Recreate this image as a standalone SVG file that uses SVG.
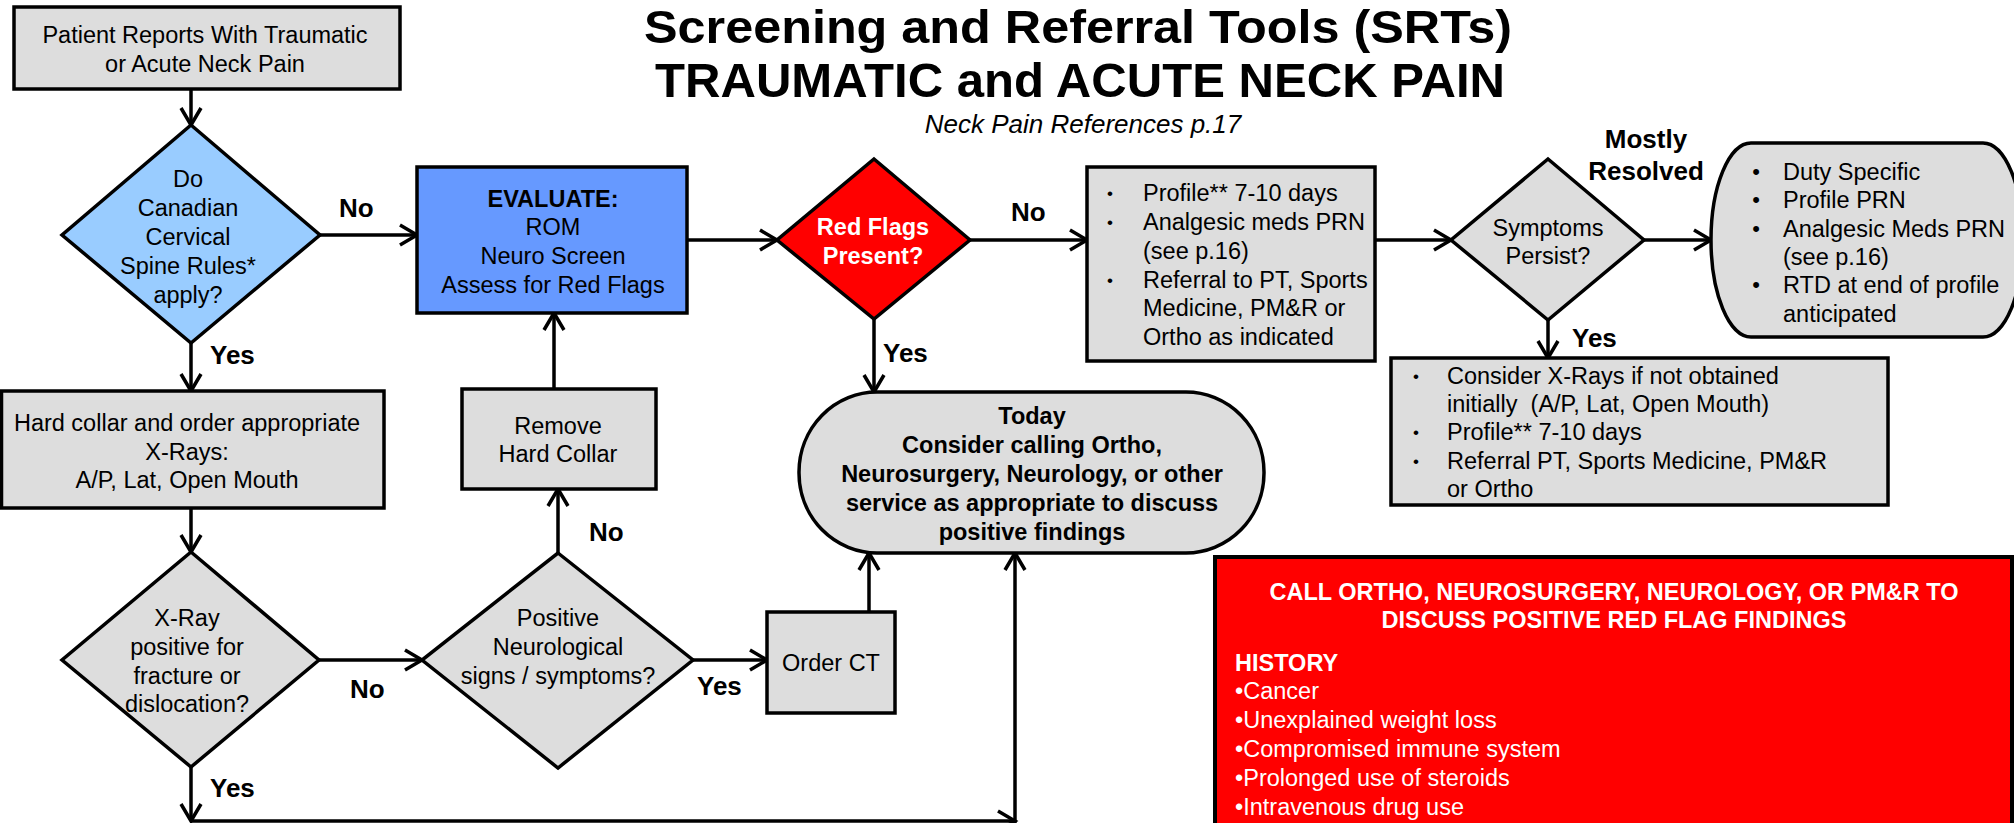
<svg xmlns="http://www.w3.org/2000/svg" width="2014" height="823" viewBox="0 0 2014 823">
<style>
.t{font-family:"Liberation Sans",Arial,sans-serif;font-size:23.5px;fill:#000}
.c{text-anchor:middle}
.b{font-weight:bold}
.w{fill:#fff}
.lbl{font-family:"Liberation Sans",Arial,sans-serif;font-weight:bold;font-size:26px;fill:#000}
.gray{fill:#DDDDDD;stroke:#000;stroke-width:3.5}
.bul{font-size:17px}
.bul2{font-size:22px}
#conns path{fill:none;stroke:#000;stroke-width:3.5;marker-end:url(#arr)}
</style>
<defs>
<marker id="arr" markerUnits="userSpaceOnUse" viewBox="0 0 20 22" markerWidth="20" markerHeight="22" refX="18" refY="11" orient="auto" overflow="visible">
<path d="M1,1 L18,11 L1,21" fill="none" stroke="#000" stroke-width="3.5"/>
</marker>
</defs>
<rect width="2014" height="823" fill="#fff"/>

<g id="title">
<text class="t b c" x="1078" y="43" style="font-size:47px" textLength="868" lengthAdjust="spacingAndGlyphs">Screening and Referral Tools (SRTs)</text>
<text class="t b c" x="1080" y="97" style="font-size:48px" textLength="850" lengthAdjust="spacingAndGlyphs">TRAUMATIC and ACUTE NECK PAIN</text>
<text class="t c" x="1083" y="133" style="font-size:26px;font-style:italic">Neck Pain References p.17</text>
</g>

<g id="conns">
<path d="M191,89 V125"/>
<path d="M320,235 H417"/>
<path d="M191,343 V391"/>
<path d="M687,240 H777"/>
<path d="M970,240 H1087"/>
<path d="M1375,240 H1451"/>
<path d="M1644,240 H1711"/>
<path d="M1548,320 V358"/>
<path d="M874,319 V392"/>
<path d="M191,508 V552"/>
<path d="M319,660 H422"/>
<path d="M558,553 V489"/>
<path d="M554,389 V313"/>
<path d="M693,660 H767"/>
<path d="M869,612 V553"/>
<path d="M191,767 V821"/>
<path d="M191,821 H1015"/>
<path d="M1015,826 V553"/>
</g>

<g id="labels">
<text class="lbl" x="339" y="217">No</text>
<text class="lbl" x="210" y="364">Yes</text>
<text class="lbl" x="1011" y="221">No</text>
<text class="lbl" x="883" y="362">Yes</text>
<text class="lbl" x="1646" y="148" text-anchor="middle">Mostly</text>
<text class="lbl" x="1646" y="180" text-anchor="middle">Resolved</text>
<text class="lbl" x="1572" y="347">Yes</text>
<text class="lbl" x="350" y="698">No</text>
<text class="lbl" x="589" y="541">No</text>
<text class="lbl" x="697" y="695">Yes</text>
<text class="lbl" x="210" y="797">Yes</text>
</g>

<g id="patient">
<rect class="gray" x="14" y="7" width="386" height="82"/>
<text class="t c" x="205" y="43">Patient Reports With Traumatic</text>
<text class="t c" x="205" y="72">or Acute Neck Pain</text>
</g>

<g id="ccsr">
<polygon points="191,125 320,235 191,343 62,235" fill="#99CCFF" stroke="#000" stroke-width="3.5"/>
<text class="t c" x="188" y="187">Do</text>
<text class="t c" x="188" y="216">Canadian</text>
<text class="t c" x="188" y="245">Cervical</text>
<text class="t c" x="188" y="274">Spine Rules*</text>
<text class="t c" x="188" y="303">apply?</text>
</g>

<g id="evaluate">
<rect x="417" y="167" width="270" height="146" fill="#6699FF" stroke="#000" stroke-width="3.5"/>
<text class="t b c" x="553" y="207">EVALUATE:</text>
<text class="t c" x="553" y="235">ROM</text>
<text class="t c" x="553" y="264">Neuro Screen</text>
<text class="t c" x="553" y="293">Assess for Red Flags</text>
</g>

<g id="redflags">
<polygon points="874,159 970,240 874,319 777,240" fill="#FF0000" stroke="#000" stroke-width="3.5"/>
<text class="t b c w" x="873" y="235">Red Flags</text>
<text class="t b c w" x="873" y="264">Present?</text>
</g>

<g id="noflags">
<rect class="gray" x="1087" y="167" width="288" height="194"/>
<text class="t c bul" x="1110" y="199">•</text>
<text class="t c bul" x="1110" y="228">•</text>
<text class="t c bul" x="1110" y="286">•</text>
<text class="t" x="1143" y="201">Profile** 7-10 days</text>
<text class="t" x="1143" y="230">Analgesic meds PRN</text>
<text class="t" x="1143" y="259">(see p.16)</text>
<text class="t" x="1143" y="288">Referral to PT, Sports</text>
<text class="t" x="1143" y="316">Medicine, PM&amp;R or</text>
<text class="t" x="1143" y="345">Ortho as indicated</text>
</g>

<g id="symptoms">
<polygon points="1548,159 1644,240 1548,320 1451,240" fill="#DDDDDD" stroke="#000" stroke-width="3.5"/>
<text class="t c" x="1548" y="236">Symptoms</text>
<text class="t c" x="1548" y="264">Persist?</text>
</g>

<g id="resolved">
<rect class="gray" x="1711" y="143" width="312" height="194" rx="40" ry="97"/>
<text class="t c bul2" x="1756" y="179">•</text>
<text class="t c bul2" x="1756" y="207">•</text>
<text class="t c bul2" x="1756" y="236">•</text>
<text class="t c bul2" x="1756" y="292">•</text>
<text class="t" x="1783" y="180">Duty Specific</text>
<text class="t" x="1783" y="208">Profile PRN</text>
<text class="t" x="1783" y="237">Analgesic Meds PRN</text>
<text class="t" x="1783" y="265">(see p.16)</text>
<text class="t" x="1783" y="293">RTD at end of profile</text>
<text class="t" x="1783" y="322">anticipated</text>
</g>

<g id="persist">
<rect class="gray" x="1391" y="358" width="497" height="147"/>
<text class="t c bul" x="1416" y="382">•</text>
<text class="t c bul" x="1416" y="438">•</text>
<text class="t c bul" x="1416" y="467">•</text>
<text class="t" x="1447" y="384">Consider X-Rays if not obtained</text>
<text class="t" x="1447" y="412">initially &#160;(A/P, Lat, Open Mouth)</text>
<text class="t" x="1447" y="440">Profile** 7-10 days</text>
<text class="t" x="1447" y="469">Referral PT, Sports Medicine, PM&amp;R</text>
<text class="t" x="1447" y="497">or Ortho</text>
</g>

<g id="hardcollar">
<rect class="gray" x="1.5" y="391" width="382.5" height="117"/>
<text class="t c" x="187" y="431">Hard collar and order appropriate</text>
<text class="t c" x="187" y="460">X-Rays:</text>
<text class="t c" x="187" y="488">A/P, Lat, Open Mouth</text>
</g>

<g id="xray">
<polygon points="191,552 319,660 191,767 62,660" fill="#DDDDDD" stroke="#000" stroke-width="3.5"/>
<text class="t c" x="187" y="626">X-Ray</text>
<text class="t c" x="187" y="655">positive for</text>
<text class="t c" x="187" y="684">fracture or</text>
<text class="t c" x="187" y="712">dislocation?</text>
</g>

<g id="neuro">
<polygon points="558,553 693,660 558,768 422,660" fill="#DDDDDD" stroke="#000" stroke-width="3.5"/>
<text class="t c" x="558" y="626">Positive</text>
<text class="t c" x="558" y="655">Neurological</text>
<text class="t c" x="558" y="684">signs / symptoms?</text>
</g>

<g id="remove">
<rect class="gray" x="462" y="389" width="194" height="100"/>
<text class="t c" x="558" y="434">Remove</text>
<text class="t c" x="558" y="462">Hard Collar</text>
</g>

<g id="ordert">
<rect class="gray" x="767" y="612" width="128" height="101"/>
<text class="t c" x="831" y="671">Order CT</text>
</g>

<g id="today">
<rect class="gray" x="799" y="392" width="465" height="161" rx="78" ry="80"/>
<text class="t b c" x="1032" y="424">Today</text>
<text class="t b c" x="1032" y="453">Consider calling Ortho,</text>
<text class="t b c" x="1032" y="482">Neurosurgery, Neurology, or other</text>
<text class="t b c" x="1032" y="511">service as appropriate to discuss</text>
<text class="t b c" x="1032" y="540">positive findings</text>
</g>

<g id="redbox">
<rect x="1215" y="557" width="797" height="300" fill="#FF0000" stroke="#000" stroke-width="4"/>
<text class="t b c w" x="1614" y="600">CALL ORTHO, NEUROSURGERY, NEUROLOGY, OR PM&amp;R TO</text>
<text class="t b c w" x="1614" y="628">DISCUSS POSITIVE RED FLAG FINDINGS</text>
<text class="t b w" x="1235" y="671">HISTORY</text>
<text class="t w" x="1235" y="699">•Cancer</text>
<text class="t w" x="1235" y="728">•Unexplained weight loss</text>
<text class="t w" x="1235" y="757">•Compromised immune system</text>
<text class="t w" x="1235" y="786">•Prolonged use of steroids</text>
<text class="t w" x="1235" y="815">•Intravenous drug use</text>
</g>
</svg>
